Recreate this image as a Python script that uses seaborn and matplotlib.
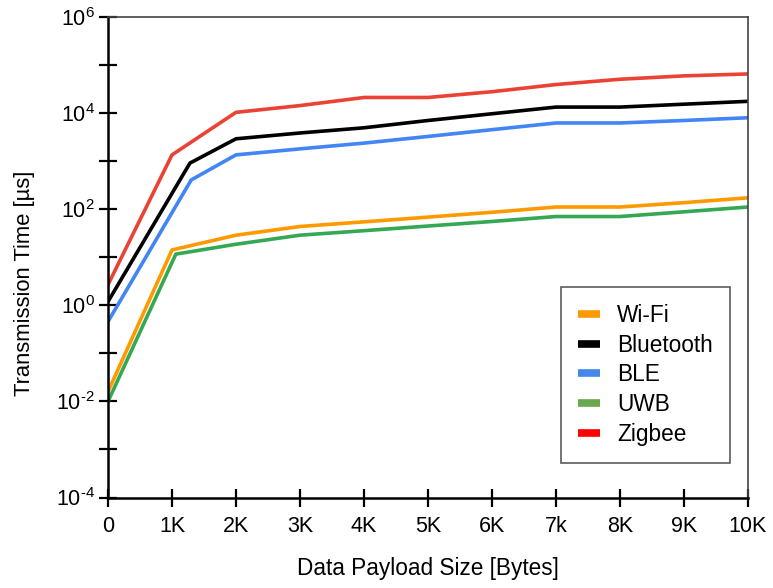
import numpy as np
import matplotlib
matplotlib.use("Agg")
import matplotlib.pyplot as plt
from matplotlib.lines import Line2D
import seaborn as sns
import pandas as pd

# Datos (tiempo en microsegundos)
techs = ["Wi-Fi", "Bluetooth", "BLE", "UWB", "Zigbee"]

x_wifi = [0, 1000, 2000, 3000, 4000, 5000, 6000, 7000, 8000, 9000, 10000]
y_wifi = [0.016, 14.3, 29, 44, 55, 69, 87, 112, 112, 138, 174]

x_bt = [0, 1280, 2000, 3000, 4000, 5000, 6000, 7000, 8000, 9000, 10000]
y_bt = [1.2, 920, 2950, 3900, 5000, 7100, 9800, 13500, 13500, 15500, 17800]

x_ble = [0, 1300, 2000, 3000, 4000, 5000, 6000, 7000, 8000, 9000, 10000]
y_ble = [0.46, 410, 1365, 1820, 2400, 3300, 4570, 6300, 6300, 7100, 8100]

x_uwb = [0, 1060, 2000, 3000, 4000, 5000, 6000, 7000, 8000, 9000, 10000]
y_uwb = [0.01, 11.7, 18.8, 29, 36, 45, 56, 71, 71, 89, 112]

x_zig = [0, 1000, 2000, 3000, 4000, 5000, 6000, 7000, 8000, 9000, 10000]
y_zig = [2.7, 1365, 10500, 14500, 21400, 21400, 28200, 39800, 51300, 60300, 66100]

line_colors = ["#FF9900", "#000000", "#4285F4", "#34A853", "#EA4335"]
legend_colors = ["#FF9900", "#000000", "#4488EE", "#6AA84F", "#FF0000"]

xticks = [0, 1000, 2000, 3000, 4000, 5000, 6000, 7000, 8000, 9000, 10000]
xtick_labels = ["0", "1K", "2K", "3K", "4K", "5K", "6K", "7k", "8K", "9K", "10K"]
ydecades = list(range(-4, 7))

xs = [x_wifi, x_bt, x_ble, x_uwb, x_zig]
ys = [y_wifi, y_bt, y_ble, y_uwb, y_zig]
df = pd.concat([pd.DataFrame({"size": x, "time": y, "tech": t})
                for x, y, t in zip(xs, ys, techs)], ignore_index=True)

sns.set_style("white")
plt.rcParams["font.family"] = ["Liberation Sans", "DejaVu Sans"]
plt.rcParams["mathtext.fontset"] = "custom"
plt.rcParams["mathtext.rm"] = "Liberation Sans"
plt.rcParams["text.color"] = "black"
plt.rcParams["axes.labelcolor"] = "black"

fig = plt.figure(figsize=(7.73, 5.88), dpi=100)
ax = fig.add_axes([108 / 773, 1 - 497.5 / 588, 640 / 773, 480.2 / 588])

sns.lineplot(data=df, x="size", y="time", hue="tech", hue_order=techs,
             palette=line_colors, sort=False, estimator=None,
             linewidth=2.6, legend=False, ax=ax)

ax.set_yscale("log")
ax.set_xlim(0, 10000)
ax.set_ylim(1e-4, 1e6)

ax.set_xticks(xticks)
ax.set_xticklabels(xtick_labels)
ax.set_yticks([10.0 ** k for k in ydecades])
ax.set_yticklabels(["10$^{\\text{%d}}$" % k if k % 2 == 0 else "" for k in ydecades])
ax.minorticks_off()
ax.tick_params(axis="both", which="major", direction="inout", length=13, width=1.6,
               labelsize=15.5, color="black", labelcolor="black",
               bottom=True, left=True, pad=3)
ax.tick_params(axis="x", pad=7)

for s in ["left", "bottom"]:
    ax.spines[s].set_color("black")
    ax.spines[s].set_linewidth(1.8)
for s in ["top", "right"]:
    ax.spines[s].set_color("#444444")
    ax.spines[s].set_linewidth(1.2)

ax.set_xlabel("Data Payload Size [Bytes]", fontsize=16.3, labelpad=14)
ax.set_ylabel("Transmission Time [µs]", fontsize=15.8)
ax.yaxis.set_label_coords(-0.114, 0.446)

handles = [Line2D([0], [0], color=c, linewidth=5.5, solid_capstyle="butt")
           for c in legend_colors]
leg = ax.legend(handles, techs, loc="lower right", bbox_to_anchor=(0.972, 0.072),
                borderaxespad=0, fontsize=16.3, frameon=True, fancybox=False,
                handlelength=1.0, handletextpad=0.75, labelspacing=0.3,
                borderpad=0.75)
leg.get_frame().set_edgecolor("#333333")
leg.get_frame().set_linewidth(1.2)

fig.savefig("out.png", dpi=100)
